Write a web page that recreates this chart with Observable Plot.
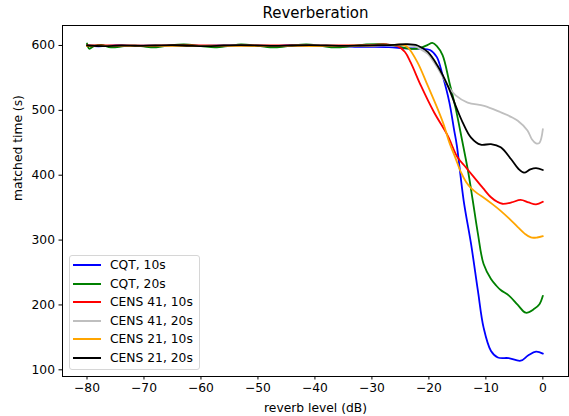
<!DOCTYPE html>
<html><head><meta charset="utf-8">
<script src="https://cdn.jsdelivr.net/npm/d3@7"></script>
<script src="https://cdn.jsdelivr.net/npm/@observablehq/plot@0.6"></script>
<style>
body{margin:0;background:#fff;font-family:"DejaVu Sans",sans-serif;}
#wrap{position:relative;width:569px;height:416px;}
#legend{position:absolute;left:69px;top:255px;width:131px;height:115px;box-sizing:border-box;border:1px solid #d6d6d6;border-radius:3px;background:rgba(255,255,255,0.8);font-size:12.3px;color:#000;}
.row{height:18.5px;display:flex;align-items:center;padding-left:3px;white-space:nowrap;}
.sw{width:28px;height:0;border-top:2px solid;margin-right:9px;}
</style></head><body><div id="wrap"></div>
<script>
const title = "Reverberation";
const xLabel = "reverb level (dB)";
const yLabel = "matched time (s)";
const xTicks = [-80, -70, -60, -50, -40, -30, -20, -10, 0];
const yTicks = [100, 200, 300, 400, 500, 600];

const seriesNames = ["CQT, 10s", "CQT, 20s", "CENS 41, 10s", "CENS 41, 20s", "CENS 21, 10s", "CENS 21, 20s"];
const seriesColors = ["#0000ff", "#008000", "#ff0000", "#bfbfbf", "#ffa500", "#000000"];

const cqt10X = [-80,-78,-75,-72,-69,-66,-63,-60,-57,-54,-51,-48,-45,-42,-39,-36,-33,-30,-27,-24,-21.5,-19.8,-18.6,-17.6,-16.4,-15.6,-15.1,-13.9,-12.6,-11.4,-10.4,-9.1,-7.9,-6,-3.9,-2.6,-1.2,0];
const cqt10Y = [600,598.5,600,599.5,600,599,600,599.5,600,600.5,599.5,599,600,600,599.5,599,598,598,597.5,595.5,595,593,582,554,512,471,446,361,294,222,165,129,119,118,114,122,128,125];

const cqt20X = [-80,-79.6,-78.8,-77.5,-75.8,-73.5,-71.5,-68.5,-66,-63,-60,-57.5,-55,-53,-50,-47,-44,-41.5,-39,-36.5,-34,-31,-28,-25.5,-23.5,-21.5,-20.2,-19.4,-18.6,-17.6,-16.4,-15.3,-14.2,-13.1,-12.3,-11.4,-10.4,-9.1,-8.2,-7.4,-5.9,-4.4,-3,-1.5,-0.6,0];
const cqt20Y = [603,595,599,601,597,599,600,597,599.5,601.5,599,597,599.5,601.5,599.5,597,600,601.5,599.5,597,598.5,601.5,602,599,595,596,601,604,599,585,543,503,455,405,361,310,263,240,230,223,214,200,188,194,201,214];

const cens41s10X = [-80,-75,-70,-65,-60,-55,-50,-45,-40,-35,-30,-27.5,-25.5,-24.2,-23.2,-21.4,-19.1,-16.7,-15,-13.5,-12.1,-10.5,-9.1,-8,-7.1,-5.5,-3.9,-2.5,-1.2,0];
const cens41s10Y = [600,600,600,600,600,600,600,600,600,600,601,601.5,599,590,574,538,497,461,428,412,397,380,366,359,356,358,362,358,355,359];

const cens41s20X = [-80,-75,-70,-65,-60,-55,-50,-45,-40,-35,-30,-27,-24,-22.5,-21.4,-20.2,-19.1,-17.8,-16.7,-15.3,-13.2,-10.3,-7.4,-5.6,-4.4,-2.7,-1.9,-1.2,-0.6,0];
const cens41s20Y = [599.5,599.5,600,599.5,599.5,600,599.5,599.5,600,599.5,600,600,600,599,594,587,574,555,538,523,512,507,497,490,484,469,455,449,450,471];

const cens21s10X = [-80,-75,-70,-65,-60,-55,-50,-45,-40,-35,-30,-26,-24.5,-23.7,-22,-20.2,-18.5,-17.4,-16.4,-15.4,-14.4,-13.5,-12.6,-11.5,-10.3,-8.8,-7.4,-5.9,-4.4,-3.2,-2.1,-1,0];
const cens21s10Y = [599,599.5,599,599.5,599,599.5,599,599.5,599,599.5,600,601,601,597,574,538,503,478,450,428,405,390,380,372,365,355,345,333,320,310,304,304,306];

const cens21s20X = [-80,-77,-74,-71,-68,-65,-62,-59,-56,-53,-50,-47,-44,-41,-38,-35,-32,-29,-26,-24,-22,-20.2,-18.5,-16.7,-15.3,-14.1,-12.6,-10.9,-9.1,-7.4,-5.6,-4.3,-3.3,-2.2,-1.2,0];
const cens21s20Y = [600,599,600,599.5,600,600.5,599.5,599,600,600.5,600,599.5,600,600.5,600,599.5,600,600.5,601,602,600,590,569,538,507,482,458,447,448,443,425,410,404,409,411,408];

const seriesX = [cqt10X, cqt20X, cens41s10X, cens41s20X, cens21s10X, cens21s20X];
const seriesY = [cqt10Y, cqt20Y, cens41s10Y, cens41s20Y, cens21s10Y, cens21s20Y];

const rows = seriesNames.map((name, i) => seriesX[i].map((x, j) => ({name, x, y: seriesY[i][j]})));
const fmt = d => d < 0 ? "\u2212" + Math.abs(d) : String(d);

const plot = Plot.plot({
  width: 569, height: 416,
  marginTop: 25, marginBottom: 40, marginLeft: 62, marginRight: 1,
  style: {fontFamily: "DejaVu Sans, sans-serif", fontSize: "12.3px", color: "black", background: "white", overflow: "visible"},
  x: {domain: [-84.3, 4.5]},
  y: {domain: [89.7, 630.8]},
  color: {domain: seriesNames, range: seriesColors},
  marks: [
    ...rows.map(r => Plot.line(r, {x: "x", y: "y", stroke: "name", strokeWidth: 1.8, curve: "catmull-rom"})),
    Plot.frame({stroke: "black", strokeWidth: 1}),
    Plot.axisX({ticks: xTicks, tickFormat: fmt, tickSize: 3.5, tickPadding: 3, label: null, fontSize: 12.3}),
    Plot.axisY({ticks: yTicks, tickSize: 3.5, tickPadding: 4, label: null, fontSize: 12.3}),
    Plot.text([xLabel], {frameAnchor: "bottom", lineAnchor: "middle", dy: 31.5, fontSize: 12.3}),
    Plot.text([yLabel], {frameAnchor: "left", lineAnchor: "middle", dx: -44, rotate: -90, fontSize: 12.3}),
    Plot.text([title], {frameAnchor: "top", lineAnchor: "middle", dy: -12, fontSize: 15})
  ]
});
const wrap = document.getElementById("wrap");
wrap.appendChild(plot);
const legend = document.createElement("div");
legend.id = "legend";
seriesNames.forEach((n, i) => {
  const row = document.createElement("div");
  row.className = "row";
  const sw = document.createElement("span");
  sw.className = "sw";
  sw.style.borderTopColor = seriesColors[i];
  const t = document.createElement("span");
  t.textContent = n;
  row.appendChild(sw); row.appendChild(t);
  legend.appendChild(row);
});
wrap.appendChild(legend);
</script></body></html>
